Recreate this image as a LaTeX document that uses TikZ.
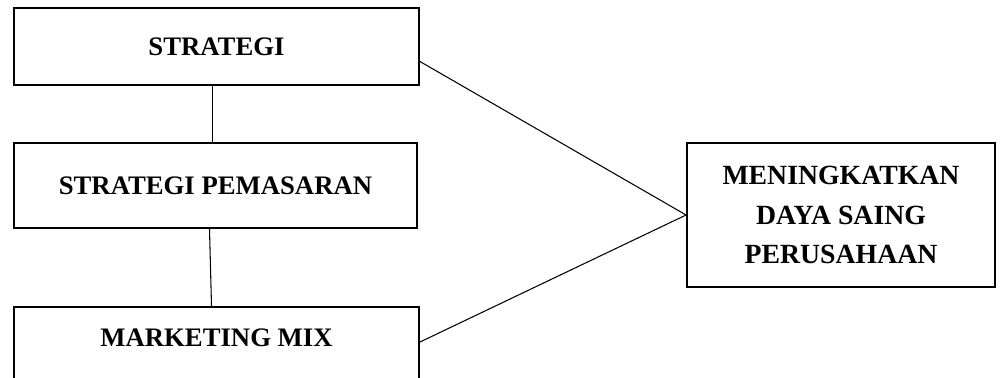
\documentclass[tikz,border=0pt]{standalone}
\usepackage{fontspec}
\setmainfont{Liberation Serif}
\usetikzlibrary{calc, positioning}

\begin{document}
\begin{tikzpicture}[x=0.02cm, y=0.02cm,
    box/.style={draw, line width=1.1pt, rectangle, inner sep=0pt},
    lbl/.style={font=\fontsize{15.2}{22}\selectfont\bfseries, align=center},
    link/.style={line width=0.6pt}]
                        % page frame
                        \useasboundingbox (0,0) rectangle (1007,378);
                        \clip (0,0) rectangle (1007,378);

                        % left column
                        \node[box, lbl, minimum width=8.1cm, minimum height=1.54cm] (strat) at (216.5,331.5) {STRATEGI};
                        \node[box, lbl, minimum width=8.06cm, minimum height=1.7cm] (pemasaran) at (215.5,192.5) {STRATEGI PEMASARAN};
                        \node[box, minimum width=8.1cm, minimum height=2.2cm] (mix) at (216.5,16) {};
                        \node[lbl] (mixtext) at (216.5,40) {MARKETING MIX};

                        % goal
                        \node[box, lbl, font=\fontsize{15.8}{22.5}\selectfont\bfseries, minimum width=6.16cm, minimum height=2.88cm] (goal) at (841,163) {MENINGKATKAN\\DAYA SAING\\PERUSAHAAN};

                        \draw[link] ($(strat.south)+(-4,0)$) -- ($(pemasaran.north)+(-3,0)$);
                        \draw[link] ($(pemasaran.south)+(-6,0)$) -- ($(mix.north)+(-5,0)$);

                        \draw[link] ($(strat.south east)!0.31!(strat.north east)$) -- (goal.west);
                        \draw[link] ($(mix.north east)+(0,-36)$) -- (goal.west);
                    \end{tikzpicture}
\end{document}
